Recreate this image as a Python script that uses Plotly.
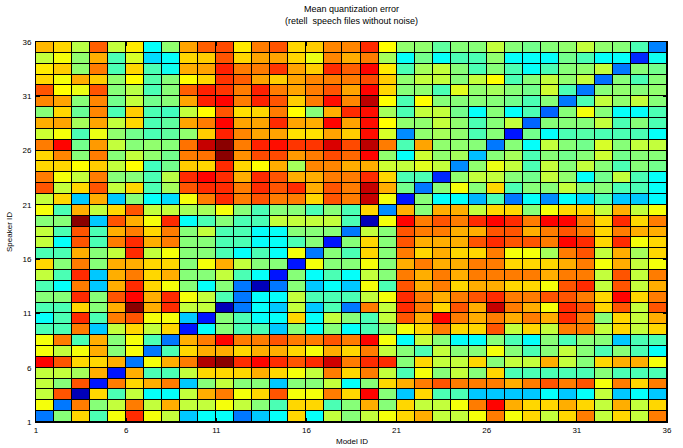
import plotly.graph_objects as go

# Cell edges (pcolor-style: 36 edges -> 35 faceted cells per axis)
model_edges = list(range(1, 37))
speaker_edges = list(range(1, 37))
tick_values = [1, 6, 11, 16, 21, 26, 31, 36]

# Mean quantization error, one list per speaker (rows), one value per model (columns)
speaker_01 = [0.23,0.50,0.66,0.44,0.61,0.83,0.61,0.56,0.31,0.37,0.37,0.23,0.31,0.37,0.66,0.37,0.56,0.50,0.56,0.61,0.66,0.70,0.56,0.56,0.61,0.75,0.61,0.66,0.56,0.66,0.75,0.56,0.66,0.56,0.75]
speaker_02 = [0.61,0.23,0.75,0.50,0.56,0.75,0.56,0.70,0.56,0.56,0.61,0.56,0.50,0.44,0.66,0.66,0.44,0.50,0.70,0.50,0.66,0.56,0.56,0.61,0.75,0.87,0.70,0.66,0.66,0.70,0.66,0.56,0.70,0.56,0.66]
speaker_03 = [0.56,0.79,0.04,0.66,0.44,0.56,0.37,0.37,0.56,0.70,0.75,0.61,0.66,0.79,0.61,0.61,0.75,0.66,0.87,0.50,0.31,0.66,0.44,0.44,0.31,0.31,0.31,0.31,0.37,0.31,0.37,0.56,0.31,0.37,0.31]
speaker_04 = [0.56,0.50,0.79,0.13,0.75,0.66,0.70,0.75,0.31,0.50,0.56,0.50,0.50,0.31,0.50,0.50,0.56,0.37,0.50,0.66,0.70,0.75,0.79,0.75,0.75,0.75,0.70,0.75,0.79,0.75,0.79,0.61,0.75,0.66,0.75]
speaker_05 = [0.56,0.56,0.53,0.70,0.13,0.70,0.44,0.44,0.56,0.66,0.66,0.66,0.70,0.66,0.61,0.56,0.75,0.66,0.75,0.56,0.44,0.61,0.50,0.56,0.50,0.66,0.44,0.44,0.44,0.44,0.44,0.50,0.44,0.44,0.44]
speaker_06 = [0.87,0.79,0.66,0.66,0.70,0.23,0.61,0.70,0.75,0.95,0.99,0.83,0.87,0.83,0.79,0.83,0.92,0.75,0.83,0.83,0.50,0.66,0.56,0.56,0.66,0.50,0.56,0.56,0.70,0.56,0.50,0.66,0.70,0.70,0.61]
speaker_07 = [0.61,0.56,0.61,0.70,0.50,0.61,0.23,0.44,0.66,0.70,0.70,0.66,0.70,0.70,0.66,0.61,0.70,0.66,0.75,0.56,0.50,0.44,0.56,0.50,0.50,0.61,0.50,0.44,0.50,0.56,0.50,0.44,0.50,0.44,0.37]
speaker_08 = [0.61,0.75,0.44,0.70,0.50,0.61,0.44,0.23,0.70,0.75,0.87,0.75,0.75,0.79,0.75,0.75,0.79,0.75,0.87,0.61,0.37,0.56,0.50,0.37,0.37,0.50,0.44,0.37,0.50,0.44,0.50,0.50,0.31,0.44,0.44]
speaker_09 = [0.44,0.44,0.75,0.31,0.56,0.66,0.56,0.66,0.13,0.37,0.50,0.44,0.44,0.31,0.50,0.37,0.50,0.37,0.44,0.50,0.61,0.66,0.75,0.66,0.66,0.79,0.56,0.66,0.56,0.75,0.75,0.56,0.66,0.56,0.66]
speaker_10 = [0.37,0.44,0.83,0.44,0.75,0.79,0.61,0.61,0.31,0.13,0.50,0.44,0.37,0.37,0.66,0.37,0.56,0.50,0.44,0.56,0.79,0.70,0.87,0.75,0.70,0.75,0.70,0.75,0.70,0.83,0.75,0.50,0.66,0.56,0.70]
speaker_11 = [0.44,0.44,0.66,0.50,0.70,0.99,0.70,0.83,0.56,0.56,0.04,0.23,0.37,0.31,0.56,0.31,0.44,0.23,0.75,0.56,0.83,0.75,0.66,0.79,0.70,0.93,0.75,0.70,0.61,0.83,0.79,0.66,0.79,0.56,0.79]
speaker_12 = [0.50,0.50,0.83,0.50,0.79,0.87,0.70,0.83,0.61,0.56,0.44,0.23,0.37,0.37,0.56,0.44,0.44,0.44,0.56,0.61,0.83,0.75,0.70,0.75,0.79,0.83,0.75,0.75,0.79,0.79,0.75,0.66,0.87,0.66,0.75]
speaker_13 = [0.44,0.37,0.75,0.31,0.70,0.83,0.66,0.61,0.50,0.37,0.50,0.23,0.04,0.23,0.50,0.31,0.37,0.31,0.61,0.44,0.79,0.70,0.75,0.66,0.70,0.70,0.66,0.66,0.61,0.79,0.83,0.56,0.79,0.56,0.70]
speaker_14 = [0.56,0.44,0.83,0.31,0.70,0.75,0.66,0.70,0.50,0.50,0.56,0.44,0.37,0.13,0.50,0.37,0.44,0.37,0.56,0.50,0.75,0.70,0.75,0.70,0.75,0.75,0.75,0.75,0.70,0.75,0.75,0.56,0.79,0.56,0.75]
speaker_15 = [0.66,0.50,0.75,0.50,0.70,0.70,0.66,0.66,0.50,0.61,0.70,0.56,0.50,0.50,0.13,0.61,0.50,0.50,0.61,0.50,0.70,0.75,0.70,0.70,0.75,0.75,0.66,0.66,0.66,0.70,0.75,0.61,0.70,0.56,0.61]
speaker_16 = [0.44,0.44,0.70,0.50,0.56,0.83,0.56,0.61,0.50,0.50,0.44,0.37,0.44,0.37,0.61,0.23,0.50,0.44,0.66,0.50,0.75,0.66,0.70,0.66,0.66,0.75,0.61,0.61,0.53,0.75,0.79,0.56,0.70,0.53,0.66]
speaker_17 = [0.56,0.37,0.79,0.44,0.75,0.83,0.70,0.75,0.50,0.50,0.44,0.44,0.37,0.37,0.44,0.50,0.13,0.50,0.66,0.50,0.79,0.70,0.70,0.70,0.79,0.83,0.79,0.79,0.75,0.87,0.83,0.66,0.83,0.61,0.66]
speaker_18 = [0.56,0.44,0.79,0.44,0.70,0.75,0.66,0.75,0.50,0.56,0.44,0.44,0.37,0.37,0.50,0.50,0.50,0.23,0.56,0.50,0.79,0.75,0.75,0.70,0.70,0.79,0.79,0.70,0.75,0.79,0.75,0.66,0.75,0.70,0.70]
speaker_19 = [0.50,0.50,0.99,0.31,0.79,0.70,0.61,0.83,0.37,0.44,0.50,0.44,0.44,0.56,0.56,0.56,0.56,0.44,0.04,0.61,0.87,0.75,0.79,0.75,0.83,0.87,0.83,0.75,0.87,0.87,0.75,0.66,0.83,0.66,0.75]
speaker_20 = [0.61,0.44,0.70,0.56,0.66,0.79,0.56,0.56,0.53,0.53,0.61,0.50,0.44,0.50,0.50,0.44,0.50,0.44,0.66,0.25,0.70,0.50,0.70,0.70,0.56,0.66,0.66,0.50,0.61,0.66,0.66,0.56,0.70,0.56,0.61]
speaker_21 = [0.56,0.66,0.31,0.70,0.31,0.50,0.37,0.33,0.61,0.75,0.83,0.75,0.79,0.75,0.75,0.66,0.79,0.75,0.93,0.61,0.13,0.50,0.37,0.37,0.29,0.44,0.23,0.37,0.25,0.37,0.33,0.44,0.31,0.31,0.36]
speaker_22 = [0.79,0.56,0.66,0.79,0.56,0.66,0.44,0.53,0.79,0.83,0.83,0.75,0.83,0.79,0.83,0.70,0.79,0.75,0.93,0.70,0.48,0.23,0.50,0.61,0.50,0.66,0.44,0.50,0.50,0.56,0.50,0.50,0.44,0.44,0.37]
speaker_23 = [0.75,0.61,0.56,0.75,0.50,0.50,0.44,0.55,0.83,0.87,0.83,0.70,0.83,0.79,0.70,0.70,0.75,0.75,0.83,0.66,0.44,0.44,0.15,0.51,0.56,0.56,0.50,0.48,0.56,0.51,0.37,0.48,0.56,0.44,0.37]
speaker_24 = [0.66,0.66,0.62,0.67,0.56,0.62,0.43,0.48,0.67,0.66,0.83,0.66,0.62,0.70,0.53,0.74,0.74,0.70,0.70,0.57,0.56,0.59,0.56,0.25,0.51,0.60,0.56,0.44,0.56,0.50,0.56,0.50,0.44,0.50,0.48]
speaker_25 = [0.66,0.74,0.50,0.75,0.50,0.56,0.51,0.48,0.75,0.76,0.99,0.73,0.80,0.80,0.72,0.75,0.80,0.77,0.87,0.51,0.37,0.57,0.51,0.53,0.30,0.50,0.53,0.44,0.50,0.48,0.50,0.57,0.48,0.50,0.50]
speaker_26 = [0.75,0.87,0.48,0.72,0.56,0.50,0.51,0.50,0.76,0.93,0.99,0.75,0.84,0.86,0.82,0.82,0.91,0.80,0.94,0.75,0.44,0.71,0.51,0.51,0.50,0.23,0.50,0.37,0.56,0.50,0.48,0.58,0.50,0.56,0.56]
speaker_27 = [0.57,0.61,0.44,0.60,0.51,0.48,0.44,0.46,0.51,0.67,0.84,0.74,0.71,0.71,0.65,0.65,0.71,0.67,0.86,0.58,0.25,0.51,0.53,0.51,0.44,0.50,0.13,0.48,0.37,0.44,0.45,0.44,0.44,0.44,0.37]
speaker_28 = [0.70,0.71,0.53,0.71,0.56,0.66,0.44,0.46,0.71,0.75,0.87,0.71,0.71,0.83,0.71,0.70,0.87,0.71,0.86,0.62,0.51,0.51,0.56,0.51,0.44,0.50,0.56,0.21,0.50,0.50,0.50,0.56,0.44,0.50,0.44]
speaker_29 = [0.50,0.66,0.47,0.74,0.44,0.67,0.44,0.43,0.56,0.62,0.79,0.65,0.66,0.75,0.62,0.50,0.70,0.83,0.86,0.53,0.44,0.56,0.56,0.48,0.37,0.50,0.37,0.44,0.21,0.50,0.61,0.50,0.37,0.37,0.44]
speaker_30 = [0.74,0.71,0.50,0.74,0.48,0.56,0.48,0.50,0.71,0.84,0.87,0.75,0.84,0.79,0.67,0.75,0.86,0.74,0.94,0.62,0.44,0.62,0.50,0.50,0.50,0.50,0.48,0.44,0.50,0.23,0.44,0.56,0.51,0.56,0.50]
speaker_31 = [0.79,0.62,0.60,0.79,0.50,0.55,0.44,0.50,0.78,0.84,0.82,0.75,0.84,0.75,0.71,0.75,0.79,0.71,0.87,0.66,0.50,0.51,0.44,0.59,0.51,0.53,0.50,0.48,0.57,0.44,0.23,0.50,0.51,0.50,0.51]
speaker_32 = [0.66,0.61,0.70,0.67,0.51,0.62,0.45,0.50,0.62,0.66,0.82,0.78,0.71,0.67,0.71,0.74,0.75,0.75,0.80,0.67,0.51,0.56,0.56,0.50,0.56,0.62,0.44,0.50,0.56,0.51,0.56,0.22,0.50,0.44,0.50]
speaker_33 = [0.64,0.67,0.51,0.75,0.44,0.66,0.44,0.38,0.70,0.71,0.84,0.75,0.75,0.82,0.71,0.67,0.83,0.78,0.87,0.64,0.44,0.53,0.56,0.50,0.44,0.50,0.44,0.37,0.44,0.50,0.51,0.56,0.23,0.50,0.48]
speaker_34 = [0.56,0.61,0.51,0.70,0.44,0.58,0.33,0.37,0.66,0.67,0.79,0.66,0.71,0.71,0.66,0.60,0.74,0.70,0.75,0.53,0.37,0.48,0.37,0.44,0.44,0.51,0.37,0.37,0.37,0.48,0.44,0.37,0.37,0.15,0.38]
speaker_35 = [0.69,0.66,0.55,0.78,0.56,0.64,0.37,0.51,0.71,0.78,0.80,0.64,0.75,0.79,0.66,0.67,0.74,0.74,0.83,0.62,0.51,0.51,0.46,0.50,0.50,0.56,0.50,0.48,0.50,0.51,0.56,0.51,0.50,0.44,0.24]

error_rows = [
    speaker_01, speaker_02, speaker_03, speaker_04, speaker_05, speaker_06, speaker_07,
    speaker_08, speaker_09, speaker_10, speaker_11, speaker_12, speaker_13, speaker_14,
    speaker_15, speaker_16, speaker_17, speaker_18, speaker_19, speaker_20, speaker_21,
    speaker_22, speaker_23, speaker_24, speaker_25, speaker_26, speaker_27, speaker_28,
    speaker_29, speaker_30, speaker_31, speaker_32, speaker_33, speaker_34, speaker_35,
]

# MATLAB-style jet colormap
jet = [
    [0.000, "rgb(0,0,143)"],
    [0.110, "rgb(0,0,255)"],
    [0.365, "rgb(0,255,255)"],
    [0.620, "rgb(255,255,0)"],
    [0.873, "rgb(255,0,0)"],
    [1.000, "rgb(128,0,0)"],
]

fig = go.Figure(
    go.Heatmap(
        x=model_edges,
        y=speaker_edges,
        z=error_rows,
        colorscale=jet,
        zmin=0.0,
        zmax=1.0,
        showscale=False,
        xgap=1,
        ygap=1,
        hovertemplate="Model %{x}<br>Speaker %{y}<br>%{z}<extra></extra>",
    )
)

font_family = "Liberation Sans, Arial, Helvetica, sans-serif"
axis_style = dict(
    range=[1, 36],
    tickmode="array",
    tickvals=tick_values,
    ticktext=[str(v) for v in tick_values],
    ticks="inside",
    ticklen=4,
    tickcolor="black",
    showline=True,
    linecolor="black",
    linewidth=1,
    mirror="ticks",
    showgrid=False,
    zeroline=False,
    tickfont=dict(family=font_family, size=8, color="black"),
)

fig.update_xaxes(**axis_style)
fig.update_yaxes(**axis_style, ticklabelstandoff=2)

fig.update_layout(
    width=683,
    height=448,
    margin=dict(l=36, r=11, t=42, b=26),
    paper_bgcolor="white",
    plot_bgcolor="black",
    font=dict(family=font_family, color="black"),
    annotations=[
        dict(
            text="Mean quantization error<br>(retell\u00a0 speech files without noise)",
            xref="paper", yref="paper", x=0.5, y=1,
            xanchor="center", yanchor="bottom", yshift=14,
            showarrow=False, font=dict(size=9, family=font_family),
        ),
        dict(
            text="Model ID",
            xref="paper", yref="paper", x=0.5, y=0,
            xanchor="center", yanchor="top", yshift=-13,
            showarrow=False, font=dict(size=8, family=font_family),
        ),
        dict(
            text="Speaker ID",
            xref="paper", yref="paper", x=0, y=0.5,
            xanchor="center", yanchor="middle", xshift=-27, textangle=-90,
            showarrow=False, font=dict(size=8, family=font_family),
        ),
    ],
)

fig.write_html("out.html")
